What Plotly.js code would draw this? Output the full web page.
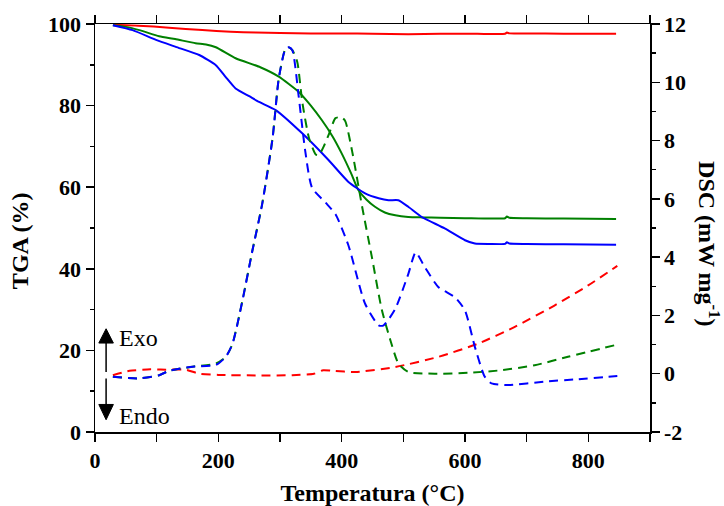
<!DOCTYPE html>
<html>
<head>
<meta charset="utf-8">
<script src="https://cdn.plot.ly/plotly-3.0.1.min.js"></script>
<style>html,body{margin:0;padding:0;background:#fff;}#chart{width:724px;height:506px;}</style>
</head>
<body>
<div id="chart"></div>
<script>
// ---- TGA (left axis, %) ----
const tgaRedT = [30, 70, 120, 174, 220, 261, 300, 350, 400, 450, 508, 560, 620, 665, 668, 672, 700, 760, 845];
const tgaRed  = [99.8, 99.6, 99.1, 98.5, 98.1, 97.9, 97.8, 97.7, 97.7, 97.6, 97.5, 97.6, 97.6, 97.6, 97.9, 97.7, 97.7, 97.6, 97.6];

const tgaGreenT = [29, 50, 72, 104, 130, 163, 180, 196, 228, 268, 298, 330, 350, 368, 385, 400, 415, 427, 440, 454, 470, 487, 508, 530, 560, 600, 665, 668, 672, 700, 760, 845];
const tgaGreen  = [99.7, 99.3, 98.5, 97.0, 96.3, 95.3, 95.0, 94.3, 91.6, 89.4, 87.1, 83.4, 80.0, 76.4, 72.5, 68.3, 63.5, 59.3, 57.0, 55.2, 53.8, 53.1, 52.7, 52.6, 52.5, 52.4, 52.4, 52.8, 52.5, 52.4, 52.3, 52.2];

const tgaBlueT = [29, 61, 99, 131, 169, 196, 212, 228, 250, 266, 293, 336, 379, 411, 438, 460, 476, 492, 508, 530, 567, 600, 616, 640, 665, 668, 672, 700, 760, 845];
const tgaBlue  = [99.7, 98.5, 96.1, 94.4, 92.4, 89.9, 87.0, 84.2, 82.3, 80.9, 78.9, 73.2, 66.6, 61.3, 58.5, 57.3, 56.8, 56.8, 55.2, 52.7, 49.9, 47.0, 46.2, 46.1, 46.1, 46.5, 46.2, 46.1, 46.0, 45.9];

// ---- DSC (right axis, mW mg-1) ----
const dscRedT = [29, 56, 90, 115, 147, 169, 200, 266, 320, 355, 370, 385, 422, 487, 557, 621, 680, 745, 799, 847];
const dscRed  = [-0.05, 0.1, 0.15, 0.14, 0.14, 0.0, -0.04, -0.06, -0.05, 0.0, 0.12, 0.1, 0.06, 0.23, 0.58, 1.03, 1.6, 2.34, 3.02, 3.7];

const dscGreenT = [29, 72, 104, 120, 158, 196, 212, 223, 239, 255, 271, 288, 298, 309, 314, 320, 328, 336, 347, 358, 363, 372, 379, 390, 400, 406, 417, 433, 449, 465, 479, 492, 508, 551, 605, 659, 713, 767, 847];
const dscGreen  = [-0.1, -0.16, -0.05, 0.1, 0.24, 0.35, 0.58, 1.03, 2.5, 4.2, 5.81, 8.09, 10.13, 11.16, 11.2, 11.1, 10.7, 9.34, 8.09, 7.52, 7.5, 7.85, 8.2, 8.77, 8.8, 8.66, 7.63, 5.75, 4.0, 2.2, 1.15, 0.35, 0.06, 0.0, 0.03, 0.12, 0.29, 0.58, 1.0];

const dscBlueT = [29, 72, 104, 120, 158, 196, 212, 223, 239, 255, 271, 288, 298, 309, 314, 320, 330, 341, 352, 374, 390, 411, 438, 460, 468, 487, 508, 520, 535, 557, 584, 600, 616, 632, 643, 670, 729, 783, 847];
const dscBlue  = [-0.1, -0.16, -0.05, 0.1, 0.24, 0.3, 0.58, 1.03, 2.5, 4.2, 5.81, 8.09, 10.13, 11.16, 11.2, 11.1, 9.57, 7.63, 6.38, 5.87, 5.47, 4.4, 2.4, 1.66, 1.66, 2.23, 3.42, 4.16, 3.65, 2.97, 2.62, 2.17, 0.92, -0.1, -0.33, -0.39, -0.27, -0.19, -0.08];

// ---- Axis ticks / labels ----
const xTicks = [0, 200, 400, 600, 800];
const yTicks = [0, 20, 40, 60, 80, 100];
const y2Ticks = [-2, 0, 2, 4, 6, 8, 10, 12];
const xTitle = 'Temperatura (°C)';
const yTitle = 'TGA (%)';
const y2Title = 'DSC (mW mg<sup>-1</sup>)';
const exoLabel = 'Exo';
const endoLabel = 'Endo';

const RED = '#ff0000', GREEN = '#008000', BLUE = '#0000ff';
const FAM = 'Liberation Serif, Times New Roman, serif';

function solid(x, y, c) {
  return {x: x, y: y, type: 'scatter', mode: 'lines', yaxis: 'y', hoverinfo: 'skip',
          line: {color: c, width: 2, shape: 'spline', smoothing: 0.5}};
}
function dashed(x, y, c) {
  return {x: x, y: y, type: 'scatter', mode: 'lines', yaxis: 'y2', hoverinfo: 'skip',
          line: {color: c, width: 2, dash: '9px,6px', shape: 'spline', smoothing: 0.6}};
}

const data = [
  dashed(dscRedT, dscRed, RED),
  dashed(dscGreenT, dscGreen, GREEN),
  dashed(dscBlueT, dscBlue, BLUE),
  solid(tgaRedT, tgaRed, RED),
  solid(tgaGreenT, tgaGreen, GREEN),
  solid(tgaBlueT, tgaBlue, BLUE)
];

const tickFont = {family: FAM, size: 22, color: '#000', weight: 'bold'};
const titleFont = {family: FAM, size: 24, color: '#000', weight: 'bold'};
const noteFont = {family: FAM, size: 24, color: '#000'};

// Exo / Endo indicator arrows (decoration, in axis units)
const arrowX = 18, headHalf = 11.8;
const shapes = [
  {type: 'line', xref: 'x', yref: 'y', x0: arrowX, x1: arrowX, y0: 14.7, y1: 22.0,
   line: {color: '#000', width: 1.5}},
  {type: 'path', xref: 'x', yref: 'y',
   path: `M ${arrowX - headHalf},21.8 L ${arrowX},25.3 L ${arrowX + headHalf},21.8 Z`,
   fillcolor: '#000', line: {color: '#000', width: 1}},
  {type: 'line', xref: 'x', yref: 'y', x0: arrowX, x1: arrowX, y0: 13.1, y1: 6.6,
   line: {color: '#000', width: 1.5}},
  {type: 'path', xref: 'x', yref: 'y',
   path: `M ${arrowX - headHalf},6.75 L ${arrowX},3.0 L ${arrowX + headHalf},6.75 Z`,
   fillcolor: '#000', line: {color: '#000', width: 1}}
];

const layout = {
  width: 724, height: 506,
  margin: {l: 95, r: 74, t: 24, b: 74},
  paper_bgcolor: '#fff', plot_bgcolor: '#fff',
  showlegend: false,
  xaxis: {
    range: [0, 900], tickvals: xTicks, ticktext: xTicks.map(String),
    showgrid: false, zeroline: false, showline: true, linecolor: '#000', linewidth: 1.5,
    mirror: 'allticks', ticks: 'outside', ticklen: 8, tickwidth: 1.5, tickcolor: '#000',
    minor: {dtick: 100, tick0: 0, ticks: 'outside', ticklen: 4, tickwidth: 1.5, tickcolor: '#000', showgrid: false},
    tickfont: tickFont,
    title: {text: xTitle, font: titleFont, standoff: 15}
  },
  yaxis: {
    range: [0, 100], tickvals: yTicks, ticktext: yTicks.map(String),
    showgrid: false, zeroline: false, showline: true, linecolor: '#000', linewidth: 1.5,
    ticks: 'outside', ticklen: 8, tickwidth: 1.5, tickcolor: '#000',
    minor: {dtick: 10, tick0: 0, ticks: 'outside', ticklen: 4, tickwidth: 1.5, tickcolor: '#000', showgrid: false},
    tickfont: tickFont
  },
  yaxis2: {
    overlaying: 'y', side: 'right',
    range: [-2, 12], tickvals: y2Ticks, ticktext: y2Ticks.map(String),
    showgrid: false, zeroline: false, showline: true, linecolor: '#000', linewidth: 1.5,
    ticks: 'outside', ticklen: 8, tickwidth: 1.5, tickcolor: '#000',
    minor: {dtick: 1, tick0: 0, ticks: 'outside', ticklen: 4, tickwidth: 1.5, tickcolor: '#000', showgrid: false},
    tickfont: tickFont
  },
  shapes: shapes,
  annotations: [
    {xref: 'paper', yref: 'paper', x: -0.135, y: 0.468, text: yTitle, textangle: -90,
     showarrow: false, xanchor: 'center', yanchor: 'middle', font: titleFont},
    {xref: 'paper', yref: 'paper', x: 1.105, y: 0.46, text: y2Title, textangle: 90,
     showarrow: false, xanchor: 'center', yanchor: 'middle', font: titleFont},
    {xref: 'x', yref: 'y', x: 35, y: 23, text: exoLabel, showarrow: false, xanchor: 'left', yanchor: 'middle',
     font: noteFont},
    {xref: 'x', yref: 'y', x: 35, y: 4, text: endoLabel, showarrow: false, xanchor: 'left', yanchor: 'middle',
     font: noteFont}
  ]
};

Plotly.newPlot('chart', data, layout, {staticPlot: true, displayModeBar: false});
</script>
</body>
</html>
